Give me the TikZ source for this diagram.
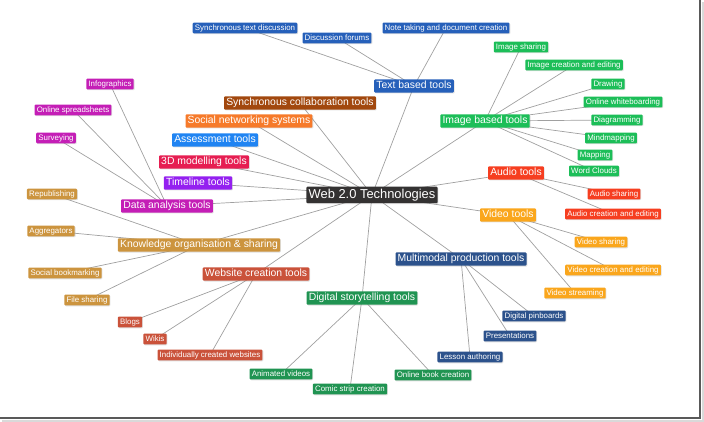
\documentclass[tikz,border=0pt]{standalone}
\usepackage{fontspec}
\setmainfont{Liberation Sans}
\usetikzlibrary{shadows}
\pgfdeclarelayer{sfondo}
\pgfsetlayers{sfondo,main}
% ── Colori dei rami ──
\definecolor{cRoot}{RGB}{52,50,50}
\definecolor{cText}{RGB}{38,96,186}
\definecolor{cImage}{RGB}{28,190,88}
\definecolor{cAudio}{RGB}{246,62,32}
\definecolor{cVideo}{RGB}{250,166,28}
\definecolor{cMulti}{RGB}{44,82,140}
\definecolor{cStory}{RGB}{32,148,82}
\definecolor{cWeb}{RGB}{202,82,58}
\definecolor{cKnow}{RGB}{204,148,62}
\definecolor{cData}{RGB}{196,30,182}
\definecolor{cTime}{RGB}{148,32,240}
\definecolor{cModel}{RGB}{230,30,82}
\definecolor{cAssess}{RGB}{32,132,242}
\definecolor{cSocial}{RGB}{246,122,42}
\definecolor{cCollab}{RGB}{162,72,14}
\definecolor{cLink}{RGB}{160,160,160}
\begin{document}
\begin{tikzpicture}[x=1pt,y=-1pt,
	box/.style={text=white, rounded corners=1pt, inner xsep=2.2pt,
		drop shadow={opacity=0.25, shadow xshift=0.8pt, shadow yshift=-0.8pt}},
	hub/.style={box, fill=cRoot, font=\fontsize{12.9}{13}\selectfont,
		text height=9.4pt, text depth=2.7pt, inner ysep=2.2pt},
	branch/.style={box, fill=#1, font=\fontsize{10.4}{11}\selectfont,
		text height=7.6pt, text depth=2.2pt, inner ysep=1.8pt},
	leaf/.style={box, fill=#1, font=\fontsize{7.9}{8}\selectfont,
		text height=6pt, text depth=1.7pt, inner ysep=1.6pt},
	link/.style={draw=cLink, line width=0.7pt},
	]
	\useasboundingbox (0,0) rectangle (704,422);
	% ── Cornice (screenshot) ──
	\draw[black!15, line width=2pt] (2,420.5) -- (702.5,420.5) -- (702.5,2);
	\draw[black!65, line width=1.3pt] (0,418) -- (700,418) -- (700,0);
	
	% ── Nodo centrale ──
	\node[hub] (root) at (372,195) {Web 2.0 Technologies};
	
	% ── Rami principali ──
	\node[branch=cText]   (textT)   at (414,86)  {Text based tools};
	\node[branch=cImage]  (imageT)  at (485,121) {Image based tools};
	\node[branch=cAudio]  (audioT)  at (516,173) {Audio tools};
	\node[branch=cVideo]  (videoT)  at (508,215) {Video tools};
	\node[branch=cMulti]  (multiT)  at (461,259) {Multimodal production tools};
	\node[branch=cStory]  (storyT)  at (362,298) {Digital storytelling tools};
	\node[branch=cWeb]    (webT)    at (256,274) {Website creation tools};
	\node[branch=cKnow]   (knowT)   at (199,245) {Knowledge organisation \& sharing};
	\node[branch=cData]   (dataT)   at (167,206) {Data analysis tools};
	\node[branch=cTime]   (timeT)   at (198,183) {Timeline tools};
	\node[branch=cModel]  (modelT)  at (204,162) {3D modelling tools};
	\node[branch=cAssess] (assessT) at (215,140) {Assessment tools};
	\node[branch=cSocial] (socialT) at (249,121) {Social networking systems};
	\node[branch=cCollab] (collabT) at (300,103) {Synchronous collaboration tools};
	
	% ── Foglie: testo ──
	\node[leaf=cText] (syncText) at (245,28) {Synchronous text discussion};
	\node[leaf=cText] (forums)   at (337,38) {Discussion forums};
	\node[leaf=cText] (notes)    at (446,28) {Note taking and document creation};
	% ── Foglie: immagini ──
	\node[leaf=cImage] (imgShare)   at (521,47)  {Image sharing};
	\node[leaf=cImage] (imgEdit)    at (574,65)  {Image creation and editing};
	\node[leaf=cImage] (drawing)    at (608,84)  {Drawing};
	\node[leaf=cImage] (whiteboard) at (623,102) {Online whiteboarding};
	\node[leaf=cImage] (diagram)    at (617,120) {Diagramming};
	\node[leaf=cImage] (mindmap)    at (611,138) {Mindmapping};
	\node[leaf=cImage] (mapping)    at (595,155) {Mapping};
	\node[leaf=cImage] (clouds)     at (594,171) {Word Clouds};
	% ── Foglie: audio / video ──
	\node[leaf=cAudio] (audShare)  at (614,194) {Audio sharing};
	\node[leaf=cAudio] (audEdit)   at (613,214) {Audio creation and editing};
	\node[leaf=cVideo] (vidShare)  at (601,242) {Video sharing};
	\node[leaf=cVideo] (vidEdit)   at (613,270) {Video creation and editing};
	\node[leaf=cVideo] (vidStream) at (575,293) {Video streaming};
	% ── Foglie: multimodale / storytelling ──
	\node[leaf=cMulti] (pinboards) at (534,316) {Digital pinboards};
	\node[leaf=cMulti] (present)   at (510,336) {Presentations};
	\node[leaf=cMulti] (lesson)    at (470,357) {Lesson authoring};
	\node[leaf=cStory] (book)      at (433,375) {Online book creation};
	\node[leaf=cStory] (comic)     at (350,389) {Comic strip creation};
	\node[leaf=cStory] (animated)  at (281,374) {Animated videos};
	% ── Foglie: siti web / conoscenza / dati ──
	\node[leaf=cWeb]  (blogs)      at (130,322) {Blogs};
	\node[leaf=cWeb]  (wikis)      at (155,339) {Wikis};
	\node[leaf=cWeb]  (ownSites)   at (210,355) {Individually created websites};
	\node[leaf=cKnow] (republish)  at (52,194)  {Republishing};
	\node[leaf=cKnow] (aggreg)     at (51,231)  {Aggregators};
	\node[leaf=cKnow] (bookmark)   at (65,273)  {Social bookmarking};
	\node[leaf=cKnow] (fileShare)  at (87,300)  {File sharing};
	\node[leaf=cData] (infograph)  at (110,84)  {Infographics};
	\node[leaf=cData] (sheets)     at (73,110)  {Online spreadsheets};
	\node[leaf=cData] (survey)     at (56,138)  {Surveying};
	
	% ── Collegamenti (dietro ai riquadri) ──
	\begin{pgfonlayer}{sfondo}
		\foreach \a/\b in {root/textT,root/imageT,root/audioT,root/videoT,root/multiT,
			root/storyT,root/webT,root/knowT,root/dataT,root/timeT,root/modelT,
			root/assessT,root/socialT,root/collabT,
			textT/syncText,textT/forums,textT/notes,
			imageT/imgShare,imageT/imgEdit,imageT/drawing,imageT/whiteboard,
			imageT/diagram,imageT/mindmap,imageT/mapping,imageT/clouds,
			audioT/audShare,audioT/audEdit,
			videoT/vidShare,videoT/vidEdit,videoT/vidStream,
			multiT/pinboards,multiT/present,multiT/lesson,
			storyT/book,storyT/comic,storyT/animated,
			webT/blogs,webT/wikis,webT/ownSites,
			knowT/republish,knowT/aggreg,knowT/bookmark,knowT/fileShare,
			dataT/infograph,dataT/sheets,dataT/survey}
		\draw[link] (\a.center) -- (\b.center);
	\end{pgfonlayer}
\end{tikzpicture}
\end{document}
